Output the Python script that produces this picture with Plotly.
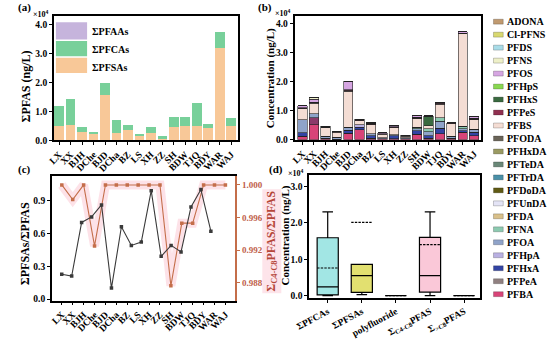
import plotly.graph_objects as go

W, H = 550, 346
FONT = "Liberation Serif, Times New Roman, serif"

# ---------------- data ----------------
sites = ["LX", "XX", "BJH", "DChe", "BJD", "DCha", "BZ", "LS", "XH", "ZZ",
         "SH", "BDW", "TJQ", "BDY", "WAR", "WAJ"]

# (a) totals by class, x10^4 ng/L
sum_pfsas = [0.50, 0.55, 0.30, 0.24, 1.57, 0.24, 0.36, 0.16, 0.25, 0.06, 0.46, 0.50, 0.50, 0.42, 3.21, 0.50]
sum_pfcas = [0.68, 0.87, 0.16, 0.05, 0.40, 0.46, 0.19, 0.05, 0.21, 0.08, 0.34, 0.30, 0.81, 0.16, 0.54, 0.28]
sum_pfaas = [0, 0, 0, 0, 0, 0, 0, 0, 0, 0, 0, 0, 0, 0, 0, 0]

# (b) individual compounds, x10^4 ng/L
pfba   = [0.11, 0.52, 0.03, 0.02, 0.22, 0.35, 0.04, 0.03, 0.03, 0.03, 0.18, 0.04, 0.20, 0.04, 0.25, 0.14]
pfpea  = [0, 0.23, 0.02, 0, 0, 0, 0, 0, 0, 0, 0, 0, 0, 0, 0, 0]
pfhxa  = [0.12, 0, 0, 0, 0.10, 0.08, 0.10, 0, 0.10, 0, 0.12, 0.10, 0.20, 0, 0.05, 0.12]
pfhpa  = [0, 0, 0, 0, 0, 0.09, 0, 0, 0, 0, 0, 0, 0, 0, 0, 0]
pfoa   = [0.45, 0.14, 0.06, 0.06, 0.10, 0, 0.06, 0.03, 0.04, 0.03, 0.08, 0.14, 0.23, 0.08, 0.08, 0.10]
pfna   = [0, 0, 0, 0, 0, 0, 0, 0, 0, 0, 0.05, 0.10, 0.12, 0, 0.08, 0]
pfda   = [0, 0, 0, 0, 0, 0, 0, 0, 0, 0, 0, 0, 0, 0, 0, 0]
pfunda = [0, 0, 0, 0, 0, 0, 0, 0, 0, 0, 0, 0, 0, 0, 0, 0]
pfdoda = [0, 0, 0, 0, 0, 0, 0, 0, 0, 0, 0, 0, 0, 0, 0, 0]
pftrda = [0, 0, 0, 0, 0, 0, 0, 0, 0, 0, 0, 0, 0, 0, 0, 0]
pfteda = [0, 0, 0, 0, 0, 0, 0, 0, 0, 0, 0, 0, 0, 0, 0, 0]
pfhxda = [0, 0, 0, 0, 0, 0, 0, 0, 0, 0, 0, 0, 0, 0, 0, 0]
pfoda  = [0, 0, 0, 0, 0, 0, 0, 0, 0, 0, 0, 0, 0, 0, 0, 0]
pfbs   = [0.39, 0.37, 0.30, 0.17, 1.25, 0.14, 0.32, 0.12, 0.24, 0.05, 0.30, 0.10, 0.48, 0.43, 3.20, 0.33]
pfpes  = [0.03, 0.04, 0.02, 0.02, 0.06, 0.05, 0.04, 0.03, 0.04, 0.04, 0.05, 0, 0.04, 0.03, 0.02, 0.05]
pfhxs  = [0, 0, 0, 0, 0, 0, 0, 0, 0, 0, 0, 0.32, 0, 0, 0, 0]
pfhps  = [0, 0, 0, 0, 0, 0, 0, 0, 0, 0, 0, 0, 0, 0, 0, 0]
pfos   = [0.07, 0.10, 0.03, 0.02, 0.28, 0, 0.02, 0.03, 0.03, 0, 0.04, 0.02, 0.02, 0, 0.04, 0.06]
pfns   = [0, 0.05, 0, 0, 0, 0, 0, 0, 0, 0, 0, 0, 0, 0, 0, 0]
pfds   = [0, 0, 0, 0, 0, 0, 0, 0, 0, 0, 0, 0, 0, 0, 0, 0]
clpfns = [0, 0, 0, 0, 0, 0, 0, 0, 0, 0, 0, 0, 0, 0, 0, 0]
adona  = [0, 0, 0, 0, 0, 0, 0, 0, 0, 0, 0, 0, 0, 0, 0, 0]

# (c) ratios
ratio_pfsa = [0.227, 0.21, 0.70, 0.75, 0.86, 0.10, 0.66, 0.49, 0.52, 0.99, 0.39, 0.49, 0.43, 0.84, 1.0, 0.62]
ratio_c4c8 = [1.0, 0.9982, 1.0, 0.9925, 1.0, 1.0, 1.0, 1.0, 1.0, 1.0, 0.9876, 0.9953, 0.9953, 1.0, 1.0, 1.0]

# (d) box statistics, x10^4 ng/L
box_groups = ["ΣPFCAs", "ΣPFSAs", "polyfluoride", "Σ<sub>C4-C8</sub>PFAS", "Σ<sub>>C8</sub>PFAS"]
box_low    = [0.0, 0.03, 0.0, 0.0, 0.0]
box_q1     = [0.02, 0.09, 0.0, 0.10, 0.0]
box_median = [0.24, 0.55, 0.0, 0.55, 0.0]
box_q3     = [1.59, 0.86, 0.0, 1.60, 0.0]
box_high   = [2.30, 0.86, 0.0, 2.30, 0.0]
box_mean   = [0.76, 2.01, 0.0, 1.40, 0.0]

# ---------------- styles ----------------
compounds = [  # bottom -> top of stack
    ("PFBA", pfba, "#d84478"), ("PFPeA", pfpea, "#8c3a6a"), ("PFHxA", pfhxa, "#3344a4"),
    ("PFHpA", pfhpa, "#b9b0e2"), ("PFOA", pfoa, "#8fa3c9"), ("PFNA", pfna, "#8ccab0"),
    ("PFDA", pfda, "#d9c08a"), ("PFUnDA", pfunda, "#e4e4f6"), ("PFDoDA", pfdoda, "#605a14"),
    ("PFTrDA", pftrda, "#4a90a8"), ("PFTeDA", pfteda, "#6a8878"), ("PFHxDA", pfhxda, "#9a9a62"),
    ("PFODA", pfoda, "#6a6458"), ("PFBS", pfbs, "#f4ddd4"), ("PFPeS", pfpes, "#3a2a30"),
    ("PFHxS", pfhxs, "#3a6a40"), ("PFHpS", pfhps, "#88d850"), ("PFOS", pfos, "#d6a6e2"),
    ("PFNS", pfns, "#eef0c8"), ("PFDS", pfds, "#a8dce8"), ("Cl-PFNS", clpfns, "#d8d870"),
    ("ADONA", adona, "#c09a70"),
]
legend_colors = {n: c for n, _, c in compounds}
legend_colors["PFPeS"] = "#903050"
legend_colors["PFPeA"] = "#908080"

def fx(p):
    return p / W

def fy(p):
    return 1 - p / H

fig = go.Figure()

# (a)
C_PFSA, C_PFCA, C_PFAA = "#f8c898", "#78d09a", "#c6b4dc"
for name, vals, col in [("ΣPFSAs", sum_pfsas, C_PFSA), ("ΣPFCAs", sum_pfcas, C_PFCA), ("ΣPFAAs", sum_pfaas, C_PFAA)]:
    fig.add_trace(go.Bar(x=sites, y=vals, name=name, marker=dict(color=col, line=dict(width=0)),
                         width=0.85, xaxis="x", yaxis="y", showlegend=False))

# (b)
for name, vals, col in compounds:
    fig.add_trace(go.Bar(x=sites, y=vals, name=name, marker=dict(color=col, line=dict(color="#222", width=0.6)),
                         width=0.82, xaxis="x2", yaxis="y2", showlegend=False))

# (c)
fig.add_trace(go.Scatter(x=sites, y=ratio_pfsa, mode="lines+markers", line=dict(color="#3a3a3a", width=1.1),
                         marker=dict(symbol="square", size=3.5, color="#3a3a3a"),
                         xaxis="x5", yaxis="y3", showlegend=False))
fig.add_trace(go.Scatter(x=sites, y=ratio_c4c8, mode="lines", line=dict(color="rgba(250,190,205,0.45)", width=9),
                         xaxis="x3", yaxis="y4", showlegend=False, hoverinfo="skip"))
fig.add_trace(go.Scatter(x=sites, y=ratio_c4c8, mode="lines+markers", line=dict(color="#c46e4a", width=1.1),
                         marker=dict(symbol="square", size=3.5, color="#c46e4a"),
                         xaxis="x3", yaxis="y4", showlegend=False))

# (d)
box_colors = ["#a2e6e4", "#e2e070", "#d0d0d0", "#fac8d8", "#d0d0d0"]
for i, g in enumerate(box_groups):
    fig.add_trace(go.Box(x=[g], q1=[box_q1[i]], median=[box_median[i]], q3=[box_q3[i]],
                         lowerfence=[box_low[i]], upperfence=[box_high[i]], mean=[box_mean[i]],
                         boxmean=True, fillcolor=box_colors[i], line=dict(color="black", width=1.2),
                         width=0.62, whiskerwidth=0.5, xaxis="x4", yaxis="y5", showlegend=False))

tickf = dict(family=FONT, size=9.5, color="black", weight="bold")
axis_common = dict(showline=True, linecolor="black", linewidth=1.8, ticks="outside", ticklen=3,
                   tickwidth=1, tickcolor="black", showgrid=False, zeroline=False, tickfont=tickf)
cat_ticks = dict(type="category", tickmode="array", tickvals=sites, ticktext=sites, tickangle=-45)

fig.update_layout(
    width=W, height=H, autosize=False, margin=dict(l=0, r=0, t=0, b=0),
    paper_bgcolor="white", plot_bgcolor="rgba(0,0,0,0)", barmode="stack", boxmode="overlay",
    showlegend=False,
    xaxis=dict(domain=[fx(41), fx(230)], anchor="y", range=[-0.45, 15.6], mirror=True,
               **cat_ticks, **axis_common),
    yaxis=dict(domain=[fy(142.5), fy(16.5)], anchor="x", range=[0, 4.29], tickvals=[0, 1, 2, 3, 4],
               tickformat=".1f", mirror=True, **axis_common),
    xaxis2=dict(domain=[fx(288), fx(479)], anchor="y2", range=[-0.68, 15.58], mirror=True,
                **cat_ticks, **axis_common),
    yaxis2=dict(domain=[fy(141.7), fy(16)], anchor="x2", range=[0, 4.28], tickvals=[0, 1, 2, 3, 4],
                tickformat=".1f", mirror=True, **axis_common),
    xaxis3=dict(domain=[fx(39), fx(227)], anchor="y3", range=[-0.9, 15.9], mirror=True,
                **cat_ticks, **axis_common),
    xaxis5=dict(domain=[fx(39), fx(227)], overlaying="x3", anchor="y3", type="category",
                range=[-0.98, 17.45], visible=False),
    yaxis3=dict(domain=[fy(305), fy(179)], anchor="x3", range=[-0.014, 1.12], tickvals=[0, 0.3, 0.6, 0.9],
                tickformat=".1f", **axis_common),
    yaxis4=dict(overlaying="y3", anchor="x3", side="right", range=[0.98578, 1.00105],
                tickvals=[0.988, 0.992, 0.996, 1.000], tickformat=".3f",
                showline=True, linecolor="#c46e4a", linewidth=1.8, ticks="outside", ticklen=3,
                tickcolor="#c46e4a", showgrid=False, zeroline=False,
                tickfont=dict(family=FONT, size=9, color="#c0604a", weight="bold")),
    xaxis4=dict(domain=[fx(303), fx(478)], anchor="y5", type="category", range=[-0.54, 4.46],
                tickangle=-28, mirror=True, **axis_common),
    yaxis5=dict(domain=[fy(302), fy(178)], anchor="x4", range=[-0.054, 3.3], tickvals=[0, 1, 2, 3],
                tickformat=".1f", mirror=True, **axis_common),
)

ann = []
shapes = []

def label(text, x, y, size=11, color="black", angle=0, xanchor="center", yanchor="middle", bg=None):
    d = dict(text=text, x=fx(x), y=fy(y), xref="paper", yref="paper", showarrow=False,
             xanchor=xanchor, yanchor=yanchor, textangle=angle,
             font=dict(family=FONT, size=size, color=color, weight="bold"))
    if bg:
        d["bgcolor"] = bg
    ann.append(d)

# panel letters
label("(a)", 2, 8, size=11, xanchor="left")
label("(b)", 248, 8, size=11, xanchor="left")
label("(c)", 2, 172, size=11, xanchor="left")
label("(d)", 260, 172, size=11, xanchor="left")

# x10^4 markers
label("×10<sup>4</sup>", 38, 14, size=8, xanchor="right")
label("×10<sup>4</sup>", 286, 13, size=8, xanchor="right")
label("×10<sup>4</sup>", 300, 176, size=8, xanchor="right")

# axis titles
label("ΣPFAS (ng/L)", 12, 88, size=12, angle=-90)
label("Concentration (ng/L)", 264, 79, size=11, angle=-90)
label("ΣPFSAs/ΣPFAS", 12, 247, size=12, angle=-90)
label("Σ<sub>C4-C8</sub>PFAS/ΣPFAS", 265, 245, size=12, angle=-90, color="#b5473a", bg="rgba(253,225,232,0.9)")
label("Concentration (ng/L)", 279, 239, size=11, angle=-90)

# legend (a)
for name, col, y0, y1, yc in [("ΣPFAAs", C_PFAA, 22.5, 40, 32), ("ΣPFCAs", C_PFCA, 41.5, 57, 50),
                              ("ΣPFSAs", C_PFSA, 58.5, 74, 68)]:
    shapes.append(dict(type="rect", xref="paper", yref="paper", x0=fx(43), x1=fx(75), y0=fy(y1), y1=fy(y0),
                       fillcolor=col, line=dict(width=0), layer="above"))
    label(name, 78, yc, size=10, xanchor="left")

# legend (b)
legend_order = ["ADONA", "Cl-PFNS", "PFDS", "PFNS", "PFOS", "PFHpS", "PFHxS", "PFPeS", "PFBS", "PFODA",
                "PFHxDA", "PFTeDA", "PFTrDA", "PFDoDA", "PFUnDA", "PFDA", "PFNA", "PFOA", "PFHpA",
                "PFHxA", "PFPeA", "PFBA"]
step = (298.5 - 22.0) / (len(legend_order) - 1)
for k, name in enumerate(legend_order):
    yc = 22.0 + k * step
    shapes.append(dict(type="rect", xref="paper", yref="paper", x0=fx(492), x1=fx(502),
                       y0=fy(yc + 2.5), y1=fy(yc - 2.5), fillcolor=legend_colors[name],
                       line=dict(color="rgba(0,0,0,0.35)", width=0.6)))
    label(name, 504, yc, size=10, xanchor="left")

fig.update_layout(annotations=ann, shapes=shapes)
fig.write_html("out.html", config={"displayModeBar": False},
               post_script="document.body.style.margin='0px';document.body.style.padding='0px';")
